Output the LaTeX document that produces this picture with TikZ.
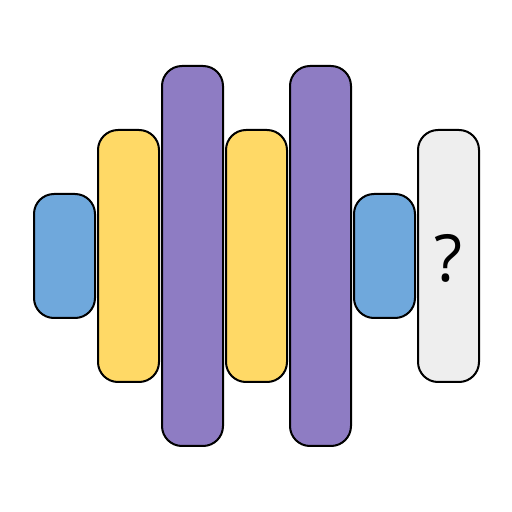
\documentclass[tikz,border=0pt]{standalone}
\usepackage{fontspec}
\newfontfamily\qfont{Open Sans}
\definecolor{cblue}{HTML}{6FA8DC}
\definecolor{cyellow}{HTML}{FFD966}
\definecolor{cpurple}{HTML}{8E7CC3}
\definecolor{cgray}{HTML}{EEEEEE}
\begin{document}
\begin{tikzpicture}[x=1pt,y=1pt,
  bar/.style={draw=black,line width=2pt,rounded corners=20pt}]
\useasboundingbox (0,0) rectangle (512,512);
\draw[bar,fill=cblue]   (34,{512-194}) rectangle (95,{512-318});
\draw[bar,fill=cyellow] (98,{512-130}) rectangle (159,{512-382});
\draw[bar,fill=cpurple] (162,{512-66}) rectangle (223,{512-446});
\draw[bar,fill=cyellow] (226,{512-130}) rectangle (287,{512-382});
\draw[bar,fill=cpurple] (290,{512-66}) rectangle (351,{512-446});
\draw[bar,fill=cblue]   (354,{512-194}) rectangle (415,{512-318});
\draw[bar,fill=cgray]   (418,{512-130}) rectangle (479,{512-382});
\node[font=\qfont\fontsize{65}{65}\selectfont,inner sep=0pt] (q) at (448.5,{512-258}) {?};
\end{tikzpicture}
\end{document}
